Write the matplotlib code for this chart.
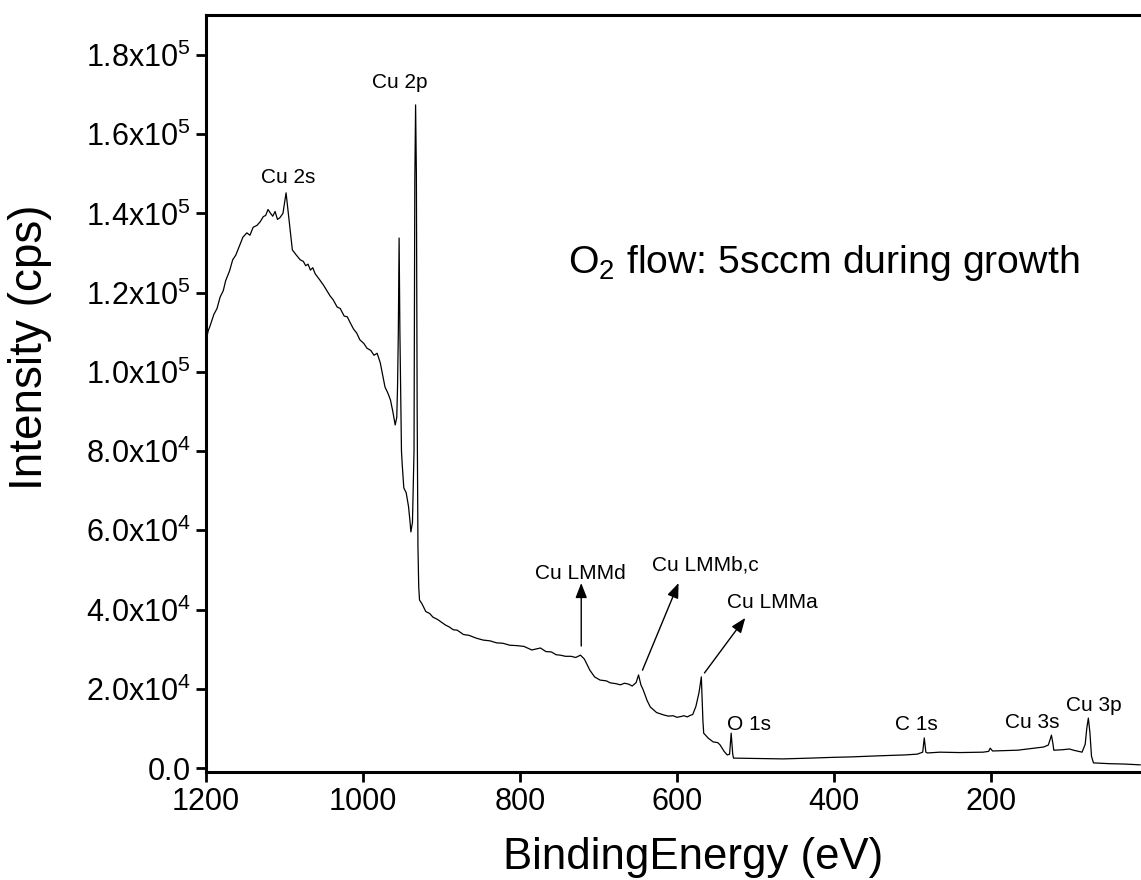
import matplotlib
matplotlib.use("Agg")
import matplotlib.pyplot as plt

plt.rcParams['font.family'] = ['Liberation Sans', 'DejaVu Sans']
plt.rcParams['mathtext.fontset'] = 'custom'
plt.rcParams['mathtext.rm'] = 'Liberation Sans'
plt.rcParams['mathtext.it'] = 'Liberation Sans'

# survey spectrum (binding energy eV, counts per s)
energy = [1200, 1197, 1195, 1190, 1186, 1182, 1178, 1175, 1170, 1166, 1162, 1158,
          1153, 1148, 1144, 1140, 1135, 1131, 1127, 1124, 1121, 1118, 1115,
          1112, 1109, 1106, 1102, 1098, 1094, 1090, 1085, 1080, 1076, 1073, 1070,
          1067, 1064, 1061, 1058, 1055, 1050, 1046, 1042, 1038, 1033, 1029, 1024,
          1020, 1016, 1012, 1008, 1004, 999, 995, 990, 986, 982, 978, 972, 968,
          965, 962, 959, 957, 956, 955, 954, 953, 951, 950, 948, 945, 942, 940,
          939, 937, 935, 934, 933, 932, 931, 930, 929, 928, 925, 920, 915, 911,
          905, 900, 895, 890, 885, 880, 872, 865, 856, 847, 838, 830, 822, 813,
          804, 795, 785, 774, 767, 760, 754, 749, 742, 735, 729, 723, 718, 711,
          705, 698, 690, 685, 678, 672, 667, 662, 657, 652, 649, 646, 643, 638,
          634, 626, 617, 611, 605, 600, 595, 591, 587, 583, 580, 576, 572, 569,
          567, 566, 560, 554, 548, 545, 540, 536, 533, 531, 529, 528, 500, 465,
          430, 400, 379, 340, 310, 294, 287, 285, 283, 281, 265, 240, 210, 203,
          201, 198, 180, 166, 150, 133, 127, 125, 123, 121, 120, 110, 100, 95, 88,
          84, 80, 78, 76, 74, 72, 69.5, 50, 30, 10]
counts = [108000, 110500, 111500, 114500, 116000, 118900, 120500, 123000, 125500,
          128300, 129500, 131500, 134000, 135100, 134500, 136500, 137000, 137900,
          139200, 139500, 141000, 140100, 139300, 140500, 138500, 138900, 140000,
          145200, 138000, 130800, 129500, 128300, 127900, 126800, 127200, 125700,
          126300, 124800, 124000, 123200, 121800, 120500, 119200, 118200, 116400,
          116000, 114100, 113900, 112300, 110800, 109800, 108100, 107200, 106000,
          105400, 104200, 104700, 102300, 96200, 94500, 92900, 90000, 86600, 88500,
          96200, 110000, 133800, 110000, 80000, 76500, 70700, 69500, 66000, 62000,
          59600, 62000, 80000, 148000, 167400, 150000, 90000, 55800, 45700, 42400,
          41500, 39500, 39000, 38100, 37500, 36800, 36100, 35600, 34900, 34800,
          33700, 33500, 32800, 32300, 32100, 31600, 31500, 31000, 30900, 30700,
          29800, 30300, 29400, 29300, 28600, 28500, 28200, 28200, 27900, 28500,
          27500, 24700, 23000, 22200, 22000, 21500, 21300, 21000, 21400, 21200,
          20700, 21600, 23500, 21000, 19700, 17000, 15400, 14000, 13400, 13100,
          13200, 12800, 13000, 13200, 12900, 13300, 13500, 15500, 19000, 23000,
          12000, 8800, 7500, 6600, 6400, 5800, 4200, 3300, 3500, 8800, 3500, 2500,
          2400, 2300, 2500, 2700, 2800, 3100, 3300, 3500, 4000, 7600, 4000, 3800,
          4000, 3900, 4000, 4200, 5000, 4300, 4400, 4500, 4900, 5300, 5800, 7000,
          8300, 6000, 4500, 4600, 4800, 4500, 4200, 4000, 6000, 10000, 12600, 9000,
          3000, 1300, 1100, 1000, 800]

y_ticks = [0, 20000, 40000, 60000, 80000, 100000, 120000, 140000, 160000, 180000]
y_tick_labels = ['0.0', '2.0x10^{4}', '4.0x10^{4}', '6.0x10^{4}', '8.0x10^{4}',
                 '1.0x10^{5}', '1.2x10^{5}', '1.4x10^{5}', '1.6x10^{5}', '1.8x10^{5}']
x_ticks = [1200, 1000, 800, 600, 400, 200]

# plain peak labels: (text, energy, counts)
peak_labels = [('Cu 2s', 1095.5, 149000), ('Cu 2p', 953, 173000),
               ('O 1s', 508, 10900), ('C 1s', 295, 10900),
               ('Cu 3s', 147, 11400), ('Cu 3p', 69.5, 15900)]
# auger labels with arrows: (text, label x, label y, tail x, tail y, tip x, tip y)
auger_labels = [('Cu LMMd', 723, 49200, 722, 30800, 722, 46700),
                ('Cu LMMb,c', 564, 51300, 644, 24700, 598, 46700),
                ('Cu LMMa', 479, 41900, 565, 24000, 513, 37900)]

fig = plt.figure(figsize=(11.41, 8.8), dpi=100)
ax = fig.add_axes([206/1141, 1 - 771.5/880, 942/1141, (771.5 - 15)/880])
ax.plot(energy, counts, color='k', lw=0.9)

ax.set_xlim(1200, 0)
ax.set_ylim(-880, 190100)
ax.set_xticks(x_ticks)
ax.set_yticks(y_ticks)
ax.set_yticklabels([r'$\mathregular{%s}$' % s for s in y_tick_labels])
ax.tick_params(direction='out', length=7, width=2, labelsize=22, pad=4)
for sp in ax.spines.values():
    sp.set_linewidth(2.2)

ax.set_xlabel('BindingEnergy (eV)', fontsize=31.5)
ax.set_ylabel('Intensity (cps)', fontsize=33)
ax.xaxis.set_label_coords(0.517, -0.087)
ax.yaxis.set_label_coords(-0.1635, 0.561)

for txt, x, y in peak_labels:
    ax.text(x, y, txt, fontsize=15, ha='center', va='center')
for txt, lx, ly, tx, ty, hx, hy in auger_labels:
    ax.text(lx, ly, txt, fontsize=15, ha='center', va='center')
    ax.annotate('', xy=(hx, hy), xytext=(tx, ty),
                arrowprops=dict(arrowstyle='-|>,head_length=0.9,head_width=0.35',
                                color='k', lw=1, shrinkA=0, shrinkB=0))

ax.text(739, 127500, r'O$_2$ flow: 5sccm during growth', fontsize=28.3,
        ha='left', va='center')

fig.savefig("out.png", dpi=100)
